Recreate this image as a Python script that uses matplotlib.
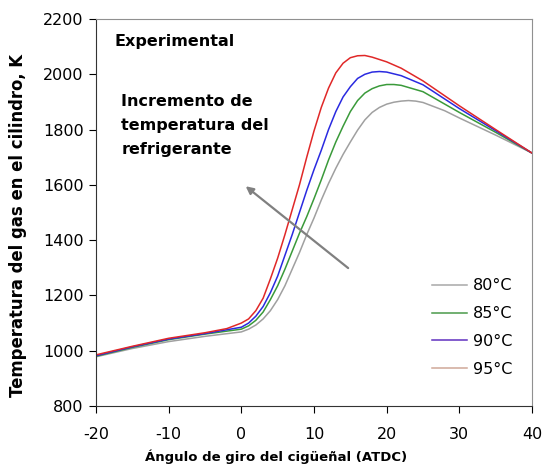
import matplotlib
matplotlib.use("Agg")
import matplotlib.pyplot as plt
from matplotlib.lines import Line2D

plt.rcParams["font.family"] = ["DejaVu Sans"]
plt.rcParams["axes.unicode_minus"] = False

# crank angle (deg ATDC) and gas temperature (K) per coolant temperature
x80 = [-20, -15, -10, -5, 0, 1, 2, 3, 4, 5, 6, 7, 8, 9, 10, 11, 12, 13, 14, 15,
       16, 17, 18, 19, 20, 21, 22, 23, 24, 25, 28, 30, 35, 40]
t80 = [978, 1008, 1033, 1052, 1068, 1078, 1093, 1115, 1145, 1185, 1235, 1295,
       1355, 1420, 1480, 1545, 1605, 1660, 1710, 1755, 1798, 1835, 1862, 1880,
       1892, 1899, 1903, 1905, 1903, 1898, 1868, 1842, 1780, 1715]

x85 = [-20, -15, -10, -5, 0, 1, 2, 3, 4, 5, 6, 7, 8, 9, 10, 11, 12, 13, 14, 15,
       16, 17, 18, 19, 20, 21, 22, 25, 30, 35, 40]
t85 = [980, 1012, 1040, 1060, 1078, 1090, 1110, 1140, 1185, 1235, 1295, 1360,
       1425, 1485, 1550, 1618, 1690, 1755, 1812, 1865, 1905, 1932, 1948, 1958,
       1963, 1963, 1960, 1937, 1862, 1790, 1715]

x90 = [-20, -15, -10, -5, 0, 1, 2, 3, 4, 5, 6, 7, 8, 9, 10, 11, 12, 13, 14, 15,
       16, 17, 18, 19, 20, 22, 25, 30, 35, 40]
t90 = [982, 1014, 1042, 1062, 1085, 1100, 1125, 1160, 1210, 1270, 1345, 1420,
       1500, 1580, 1655, 1725, 1800, 1865, 1918, 1955, 1985, 2000, 2008, 2010,
       2008, 1995, 1962, 1876, 1796, 1715]

x95 = [-20, -15, -10, -5, -2, 0, 1, 2, 3, 4, 5, 6, 7, 8, 9, 10, 11, 12, 13, 14,
       15, 16, 17, 18, 20, 22, 25, 30, 35, 40]
t95 = [985, 1016, 1045, 1065, 1080, 1100, 1115, 1145, 1190, 1260, 1335, 1420,
       1510, 1600, 1700, 1795, 1880, 1950, 2005, 2040, 2060, 2067, 2068, 2062,
       2045, 2022, 1976, 1886, 1800, 1715]

labels = ["80°C", "85°C", "90°C", "95°C"]
line_colors = ["#a0a0a0", "#3a9a3a", "#2a2ae0", "#e02828"]
legend_colors = ["#a8a8a8", "#4a9a4a", "#6030c0", "#d0a898"]

fig = plt.figure(figsize=(5.46, 4.68), dpi=100)
ax = fig.add_axes([96 / 546, 1 - 406 / 468, (532 - 96) / 546, (406 - 19) / 468])

for xs, ts, c in zip([x80, x85, x90, x95], [t80, t85, t90, t95], line_colors):
    ax.plot(xs, ts, color=c, lw=1.1)

ax.set_xlim(-20, 40)
ax.set_ylim(800, 2200)
ax.set_xticks(range(-20, 41, 10))
ax.set_yticks(range(800, 2201, 200))
ax.tick_params(direction="out", length=5, labelsize=11.5, colors="black", pad=4)
ax.tick_params(axis="x", pad=10)
for s in ["top", "right"]:
    ax.spines[s].set_color("#909090")
for s in ["left", "bottom"]:
    ax.spines[s].set_color("#333333")

ax.set_xlabel("Ángulo de giro del cigüeñal (ATDC)", fontsize=9.5,
              fontweight="bold")
ax.xaxis.set_label_coords((276 - 96) / 436, -(450 - 406) / 387)
ax.set_ylabel("Temperatura del gas en el cilindro, K", fontsize=11.9,
              fontweight="bold")
ax.yaxis.set_label_coords(-(96 - 27) / 436, (406 - 225) / 387)

ax.text(-17.4, 2118, "Experimental", fontsize=11.5, fontweight="bold",
        va="center", ha="left")
ax.text(-16.5, 1930, "Incremento de\ntemperatura del\nrefrigerante",
        fontsize=11.5, fontweight="bold", va="top", ha="left", linespacing=1.75)

ax.annotate("", xy=(0.6, 1595), xytext=(14.7, 1299),
            arrowprops=dict(arrowstyle="-|>", color="#808080", lw=1.6,
                            mutation_scale=11, shrinkA=0, shrinkB=0))

handles = [Line2D([0], [0], color=c, lw=1.1) for c in legend_colors]
ax.legend(handles, labels, loc="lower right", bbox_to_anchor=(0.955, 0.075),
          frameon=False, fontsize=11.5, handlelength=2.2, labelspacing=0.81,
          handletextpad=0.35, borderpad=0, borderaxespad=0)

fig.savefig("out.png", dpi=100)
